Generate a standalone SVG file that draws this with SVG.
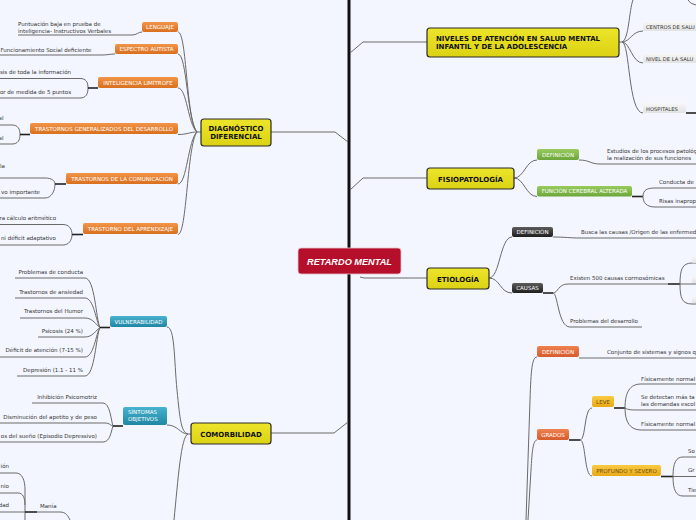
<svg xmlns="http://www.w3.org/2000/svg" width="696" height="520" viewBox="0 0 696 520">
<defs>
<linearGradient id="gY" x1="0" y1="0" x2="0" y2="1"><stop offset="0" stop-color="#ede52a"/><stop offset="1" stop-color="#dcd214"/></linearGradient>
<linearGradient id="gO" x1="0" y1="0" x2="0" y2="1"><stop offset="0" stop-color="#f29448"/><stop offset="1" stop-color="#d8701f"/></linearGradient>
<linearGradient id="gT" x1="0" y1="0" x2="0" y2="1"><stop offset="0" stop-color="#48b3cf"/><stop offset="1" stop-color="#1f86a3"/></linearGradient>
<linearGradient id="gG" x1="0" y1="0" x2="0" y2="1"><stop offset="0" stop-color="#98cb5e"/><stop offset="1" stop-color="#6ca63a"/></linearGradient>
<linearGradient id="gB" x1="0" y1="0" x2="0" y2="1"><stop offset="0" stop-color="#5c5c5c"/><stop offset="1" stop-color="#1e1e1e"/></linearGradient>
<linearGradient id="gR" x1="0" y1="0" x2="0" y2="1"><stop offset="0" stop-color="#ee8250"/><stop offset="1" stop-color="#d65c2c"/></linearGradient>
<linearGradient id="gA" x1="0" y1="0" x2="0" y2="1"><stop offset="0" stop-color="#f9cb42"/><stop offset="1" stop-color="#e9a915"/></linearGradient>
<linearGradient id="gW" x1="0" y1="0" x2="0" y2="1"><stop offset="0" stop-color="#f8f8f8"/><stop offset="1" stop-color="#e2e2e2"/></linearGradient>
</defs>
<style>
.bg{fill:#f3f6fe}
.c{fill:none;stroke:#6a6a6a;stroke-width:1}
.k{fill:none;stroke:#222;stroke-width:1.6}
.spine{fill:none;stroke:#111;stroke-width:3}
.main{fill:url(#gY);stroke:#2a2a2a;stroke-width:1.2}
.mt{font-family:"DejaVu Sans",sans-serif;font-weight:bold;font-size:7px;fill:#111}
.st{font-family:"DejaVu Sans",sans-serif;font-size:5.5px;fill:#fff}
.sd{font-family:"DejaVu Sans",sans-serif;font-size:5.2px;fill:#333}
.lt{font-family:"DejaVu Sans",sans-serif;font-size:5.5px;fill:#333}
.e{text-anchor:end}
.m{text-anchor:middle}
.o{fill:url(#gO)}
.t{fill:url(#gT)}
.g{fill:url(#gG)}
.b{fill:url(#gB)}
.r{fill:url(#gR)}
.a{fill:url(#gA)}
.w{fill:url(#gW)}
</style>
<rect class="bg" x="0" y="0" width="696" height="520"/>
<path class="spine" d="M349,0 V520"/>

<g id="connectors">
<path class="c" d="M271,132 H335 L348,142"/>
<path class="c" d="M271,433 H334 L348,422"/>
<path class="c" d="M350,53 L363,42 H427"/>
<path class="c" d="M350,190 L363,178 H427"/>
<path class="c" d="M360,277 L364,278 H427"/>
<path class="c" d="M178,32 C187,32 186,120 197,132"/>
<path class="c" d="M178,54 C187,54 187,120 197,132"/>
<path class="c" d="M178,88 C187,88 188,125 197,132"/>
<path class="c" d="M178,134.5 C187,134.5 190,132 197,132"/>
<path class="c" d="M178,184 C187,184 188,140 197,132"/>
<path class="c" d="M178,234.5 C187,234.5 187,145 197,132"/>
<path class="c" d="M197,132 H201"/>
<path class="c" d="M18,35 H132 C137,35 138,32 142,32"/>
<path class="c" d="M0,55 H102 C108,55 110,54 115,54"/>
<path class="c" d="M0,78.5 H80 C86,78.5 88,82 88,88"/>
<path class="c" d="M0,98 H80 C86,98 88,94 88,88"/>
<path class="k" d="M88,88 H98"/>
<path class="c" d="M0,125 H12 C18,125 20,129 20,134.5"/>
<path class="c" d="M0,144 H12 C18,144 20,140 20,134.5"/>
<path class="k" d="M20,134.5 H30"/>
<path class="c" d="M0,178 H45 C52,178 55,181 55,184"/>
<path class="c" d="M0,198 H45 C52,198 55,190 55,184"/>
<path class="k" d="M55,184 H66"/>
<path class="c" d="M0,224.5 H63 C69,224.5 72,229 72,234.5"/>
<path class="c" d="M0,245 H63 C69,245 72,240 72,234.5"/>
<path class="k" d="M72,234.5 H83"/>
<path class="c" d="M167,327 C175,327 174,360 177,390 S181,432 188,434"/>
<path class="c" d="M167,425 C178,425 180,434 188,434"/>
<path class="c" d="M188,434 C181,436 178,480 174,520"/>
<path class="c" d="M188,434 H191"/>
<path class="c" d="M15,278 H85 C95,278 96,320 100,327.5"/>
<path class="c" d="M15,298 H85 C94,298 96,322 100,327.5"/>
<path class="c" d="M20,318 H85 C93,318 96,325 100,327.5"/>
<path class="c" d="M38,337 H85 C93,337 96,330 100,327.5"/>
<path class="c" d="M0,357 H85 C94,357 96,333 100,327.5"/>
<path class="c" d="M17,376 H85 C95,376 96,335 100,327.5"/>
<path class="k" d="M100,327.5 H110"/>
<path class="c" d="M32,403 H103 C110,403 111,420 113,426"/>
<path class="c" d="M0,423 H105 C110,423 111,426 113,426"/>
<path class="c" d="M0,442 H103 C110,442 111,432 113,426"/>
<path class="k" d="M113,426 H123"/>
<path class="c" d="M0,473 H16 C22,473 25,480 25,490 V520"/>
<path class="c" d="M0,493 H18 C23,493 25,498 25,505"/>
<path class="c" d="M0,512 H25"/>
<path class="k" d="M25,512 H37"/>
<path class="c" d="M37,512 H60 C66,512 68,516 70,520"/>
<path class="c" d="M619,42 H622"/>
<path class="c" d="M622,42 C629,40 629,10 633,0"/>
<path class="c" d="M622,42 C630,42 632,31 643,31"/>
<path class="c" d="M622,42 C630,42 632,63 643,63"/>
<path class="c" d="M622,42 C630,42 628,113 643,113"/>
<path class="k" d="M686,113 H696"/>
<path class="c" d="M688,0 Q690,4 696,5"/>
<path class="c" d="M514,178 C524,178 526,160 537,160"/>
<path class="c" d="M514,178 C524,178 526,196.5 537,196.5"/>
<path class="c" d="M579,160 C590,160 590,164 600,164 H696"/>
<path class="k" d="M632,196.5 H643"/>
<path class="c" d="M643,196.5 C643,190 647,188 655,188 H696"/>
<path class="c" d="M643,196.5 C643,203 647,207 655,207 H696"/>
<path class="c" d="M489,278 C500,278 500,237 512,237"/>
<path class="c" d="M489,278 C500,278 500,293 512,293"/>
<path class="c" d="M553,237 C565,237 570,238 580,238 H696"/>
<path class="k" d="M543,293 H553"/>
<path class="c" d="M553,293 C558,293 558,284 568,284 H668"/>
<path class="k" d="M668,284 H680"/>
<path class="c" d="M680,284 C680,270 682,263 692,263 H696"/>
<path class="c" d="M680,284 H696"/>
<path class="c" d="M680,284 C680,298 682,304 692,304 H696"/>
<path class="c" d="M553,293 C558,293 558,327 570,327 H642"/>
<path class="c" d="M537,357 C532,357 531,370 530,400 L526,520"/>
<path class="c" d="M537,440 C533,440 532,452 531,470 L528,520"/>
<path class="c" d="M579,358 H696"/>
<path class="k" d="M569,440 H580"/>
<path class="c" d="M580,440 C586,440 584,408 592,408"/>
<path class="c" d="M580,440 C586,440 584,476 592,476"/>
<path class="k" d="M614,408 H625"/>
<path class="c" d="M625,408 C625,392 630,384 641,384 H696"/>
<path class="c" d="M625,408 C628,410 632,410 641,410 H696"/>
<path class="c" d="M625,408 C625,422 630,430 641,430 H696"/>
<path class="k" d="M661,476.5 H673"/>
<path class="c" d="M673,476.5 C673,463 676,457 683,457 H696"/>
<path class="c" d="M673,476.5 H696"/>
<path class="c" d="M673,476.5 C673,490 676,496 683,496 H696"/>
</g>

<g id="central"><rect x="298" y="248" width="103" height="26" rx="3" fill="#b50f2c" stroke="#e8c0c8" stroke-width="0.8"/><text x="349.5" y="265" class="m" font-family="Liberation Sans, sans-serif" font-size="9.2" font-weight="bold" font-style="italic" fill="#fff">RETARDO MENTAL</text></g>

<g id="diagnostico"><rect class="main" x="201" y="119" width="70" height="27" rx="3"/><text class="mt m" x="236" y="130.5" font-size="6.2">DIAGNÓSTICO</text><text class="mt m" x="236" y="139" font-size="6.2">DIFERENCIAL</text></g>
<g id="lenguaje"><rect class="o" x="142" y="22" width="36" height="10" rx="2"/><text class="st m" x="160" y="29">LENGUAJE</text></g>
<g id="lenguaje-l"><text class="lt" x="18" y="26">Puntuación baja en prueba de</text><text class="lt" x="18" y="32.5">inteligencia- Instructivos Verbales</text></g>
<g id="autista"><rect class="o" x="115" y="44" width="63" height="10" rx="2"/><text class="st m" x="146.5" y="51">ESPECTRO AUTISTA</text></g>
<g id="autista-l"><text class="lt" x="0.5" y="52">Funcionamiento Social deficiente</text></g>
<g id="limitrofe"><rect class="o" x="98" y="77" width="80" height="11" rx="2"/><text class="st m" x="138" y="84.5">INTELIGENCIA LIMÍTROFE</text></g>
<g id="limitrofe-l"><text class="lt e" x="71" y="74">sis de toda la información</text><text class="lt e" x="71" y="93.5">or de medida de 5 puntos</text></g>
<g id="tgd"><rect class="o" x="30" y="123" width="148" height="11" rx="2"/><text class="st m" x="104" y="130.5">TRASTORNOS GENERALIZADOS DEL DESARROLLO</text></g>
<g id="tgd-l"><text class="lt e" x="3.5" y="120">al</text><text class="lt e" x="3.5" y="139.5">al</text></g>
<g id="comunicacion"><rect class="o" x="66" y="173" width="112" height="11" rx="2"/><text class="st m" x="122" y="180.5">TRASTORNOS DE LA COMUNICACIÓN</text></g>
<g id="comunicacion-l"><text class="lt e" x="5" y="168">la</text><text class="lt e" x="40" y="193.5">vo importante</text></g>
<g id="aprendizaje"><rect class="o" x="83" y="223" width="95" height="11" rx="2"/><text class="st m" x="130.5" y="230.5">TRASTORNO DEL APRENDIZAJE</text></g>
<g id="aprendizaje-l"><text class="lt e" x="56" y="220">ra cálculo aritmético</text><text class="lt e" x="56" y="239.5">ni déficit adaptativo</text></g>

<g id="comorbilidad"><rect class="main" x="191" y="423" width="80" height="21" rx="3"/><text class="mt m" x="231" y="436.5">COMORBILIDAD</text></g>
<g id="vulnerabilidad"><rect class="t" x="110" y="316" width="57" height="11" rx="2"/><text class="st m" x="138.5" y="323.5">VULNERABILIDAD</text></g>
<g id="vulnerabilidad-l">
<text class="lt e" x="83" y="274">Problemas de conducta</text>
<text class="lt e" x="83" y="293.5">Trastornos de ansiedad</text>
<text class="lt e" x="83" y="313">Trastornos del Humor</text>
<text class="lt e" x="83" y="332.5">Psicosis (24 %)</text>
<text class="lt e" x="83" y="352">Déficit de atención (7-15 %)</text>
<text class="lt e" x="83" y="371.5">Depresión (1.1 - 11 %</text>
</g>
<g id="sintomas"><rect class="t" x="123" y="407" width="44" height="18" rx="2"/><text class="st" x="128" y="414">SÍNTOMAS</text><text class="st" x="128" y="421">OBJETIVOS</text></g>
<g id="sintomas-l">
<text class="lt e" x="97" y="398.5">Inhibición Psicomotriz</text>
<text class="lt e" x="97" y="418.5">Disminución del apetito y de peso</text>
<text class="lt e" x="97" y="437.5">os del sueño (Episodio Depressivo)</text>
</g>
<g id="mania"><text class="lt" x="40" y="507.5">Manía</text><text class="lt e" x="9" y="468">ión</text><text class="lt e" x="9" y="488">nio</text><text class="lt e" x="9" y="507">dad</text></g>

<g id="niveles"><rect class="main" x="427" y="28" width="192" height="29" rx="3"/><text class="mt" x="436" y="40.5">NIVELES DE ATENCIÓN EN SALUD MENTAL</text><text class="mt" x="436" y="49">INFANTIL Y DE LA ADOLESCENCIA</text></g>
<g id="centros"><rect class="w" x="643" y="21" width="60" height="10" rx="2"/><text class="sd" x="646" y="28.5">CENTROS DE SALU</text></g>
<g id="nivel"><rect class="w" x="643" y="53" width="60" height="10" rx="2"/><text class="sd" x="646" y="60.5">NIVEL DE LA SALU</text></g>
<g id="hospitales"><rect class="w" x="643" y="103" width="43" height="10" rx="2"/><text class="sd" x="646" y="110.5">HOSPITALES</text></g>

<g id="fisiopatologia"><rect class="main" x="427" y="168" width="87" height="21" rx="3"/><text class="mt m" x="470.5" y="181.5">FISIOPATOLOGÍA</text></g>
<g id="fis-def"><rect class="g" x="537" y="149" width="42" height="11" rx="2"/><text class="st m" x="558" y="156.5">DEFINICIÓN</text></g>
<g id="fis-def-l"><text class="lt" x="607" y="153">Estudios de los procesos patológ</text><text class="lt" x="607" y="159.5">la realización de sus funciones</text></g>
<g id="funcion"><rect class="g" x="537" y="186" width="95" height="10.5" rx="2"/><text class="st m" x="584.5" y="193">FUNCIÓN CEREBRAL ALTERADA</text></g>
<g id="funcion-l"><text class="lt" x="659" y="183.5">Conducta de</text><text class="lt" x="659" y="202.5">Risas inaprop</text></g>

<g id="etiologia"><rect class="main" x="427" y="268" width="62" height="21" rx="3"/><text class="mt m" x="458" y="281.5">ETIOLOGÍA</text></g>
<g id="eti-def"><rect class="b" x="512" y="227" width="41" height="10" rx="2"/><text class="st m" x="532.5" y="234">DEFINICIÓN</text></g>
<g id="eti-def-l"><text class="lt" x="581" y="234">Busca las causas /Origen de las enfermed</text></g>
<g id="causas"><rect class="b" x="512" y="283" width="31" height="10" rx="2"/><text class="st m" x="527.5" y="290">CAUSAS</text></g>
<g id="causas-l"><text class="lt" x="570" y="280">Existen 500 causas cormosómicas</text><text class="lt" x="570" y="322.5">Problemas del desarrollo</text>
<rect class="w" x="692" y="256" width="6" height="7" rx="1"/><rect class="w" x="692" y="276" width="6" height="7" rx="1"/><rect class="w" x="692" y="296" width="6" height="7" rx="1"/></g>

<g id="bot-def"><rect class="r" x="537" y="346" width="42" height="11" rx="2"/><text class="st m" x="558" y="353.5">DEFINICIÓN</text></g>
<g id="bot-def-l"><text class="lt" x="607" y="353.5">Conjunto de sistemas y signos q</text></g>
<g id="grados"><rect class="r" x="537" y="429" width="32" height="11" rx="2"/><text class="st m" x="553" y="436.5">GRADOS</text></g>
<g id="leve"><rect class="a" x="592" y="396" width="22" height="11" rx="2"/><text class="st m" x="603" y="403.5" style="fill:#6e4b12">LEVE</text></g>
<g id="leve-l"><text class="lt" x="641" y="380.5">Físicamente normal</text><text class="lt" x="641" y="399">Se detectan más ta</text><text class="lt" x="641" y="406">las demandas escol</text><text class="lt" x="641" y="425.5">Físicamente normal</text></g>
<g id="profundo"><rect class="a" x="592" y="465" width="69" height="11" rx="2"/><text class="st m" x="626.5" y="472.5" style="fill:#6e4b12">PROFUNDO Y SEVERO</text></g>
<g id="profundo-l"><text class="lt" x="688" y="452.5">So</text><text class="lt" x="688" y="472">Gr</text><text class="lt" x="688" y="491.5">Tie</text></g>
</svg>
